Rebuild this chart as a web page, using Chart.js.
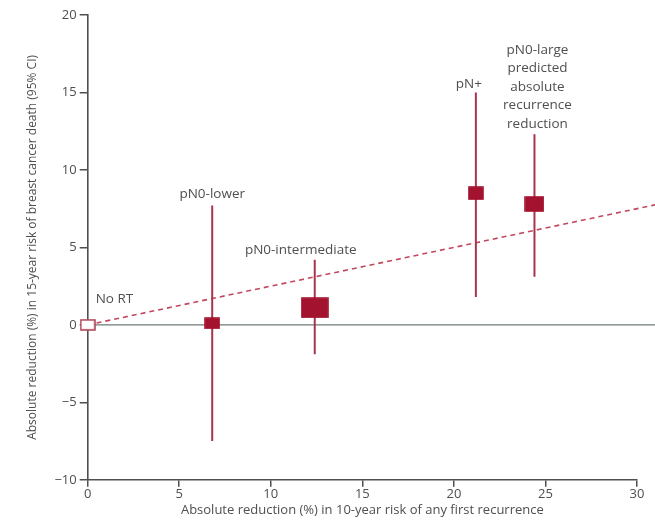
<!DOCTYPE html>
<html><head><meta charset="utf-8">
<script src="https://cdn.jsdelivr.net/npm/chart.js@4"></script>
<style>html,body{margin:0;padding:0;background:#fff}canvas{display:block}</style>
</head><body>
<canvas id="c" width="655" height="522"></canvas>
<script>
const groups = ['No RT','pN0-lower','pN0-intermediate','pN+','pN0-large predicted absolute recurrence reduction'];
const recurrenceReduction = [0, 6.8, 12.4, 21.2, 24.4];
const deathReduction = [0, 0.1, 1.1, 8.5, 7.8];
const ciLow = [null, -7.5, -1.9, 1.8, 3.1];
const ciHigh = [null, 7.7, 4.2, 15.0, 12.3];
const trendX = [0, 31];
const trendY = [0, 7.75];
const xTicks = [0,5,10,15,20,25,30];
const yTicks = [-10,-5,0,5,10,15,20];
const labelLines = [['No RT'],['pN0-lower'],['pN0-intermediate'],['pN+'],['pN0-large','predicted','absolute','recurrence','reduction']];

const RED = '#a3122e';
const GREY = '#4f4f4f';
const boxW = [14,14,26,14,18];
const boxH = [10,10,19,12,14];

function boxCanvas(w,h,filled){
  const c=document.createElement('canvas');c.width=w+2;c.height=h+2;
  const g=c.getContext('2d');
  g.fillStyle=filled?RED:'#fff';g.fillRect(1,1,w,h);
  g.strokeStyle=filled?RED:'#b0485c';g.lineWidth=1.6;g.strokeRect(1,1,w,h);
  return c;
}
const boxes = groups.map((g,i)=>boxCanvas(boxW[i],boxH[i],i>0));

const datasets = [];
datasets.push({type:'line',data:[{x:trendX[0],y:0},{x:trendX[1],y:0}],borderColor:'#6f7a78',borderWidth:1.3,pointRadius:0,clip:false,order:5});
datasets.push({type:'line',data:trendX.map((x,i)=>({x,y:trendY[i]})),borderColor:'#c0485e',borderWidth:1.6,borderDash:[5,4],pointRadius:0,clip:false,order:4});
groups.forEach((g,i)=>{
  if(ciLow[i]===null) return;
  datasets.push({type:'line',data:[{x:recurrenceReduction[i],y:ciLow[i]},{x:recurrenceReduction[i],y:ciHigh[i]}],borderColor:'#a8344c',borderWidth:2,pointRadius:0,order:3});
});
datasets.push({type:'scatter',data:recurrenceReduction.map((x,i)=>({x,y:deathReduction[i]})),pointStyle:boxes,pointRadius:8,clip:false,order:1});

const labelPlugin = {
  id:'labels',
  afterDatasetsDraw(chart){
    const {ctx,scales:{x,y}} = chart;
    const offs = [ [8,-26,'left'], [0,-129,'center'], [-14,-58,'center'], [-7,-109,'center'], [3,-154,'center'] ];
    ctx.save();
    ctx.font = '13.5px "Open Sans", sans-serif';
    ctx.fillStyle = GREY;
    ctx.textBaseline='middle';
    labelLines.forEach((lines,i)=>{
      const px = x.getPixelForValue(recurrenceReduction[i]);
      const py = y.getPixelForValue(deathReduction[i]);
      const [dx,dy,al]=offs[i];
      ctx.textAlign=al;
      lines.forEach((t,k)=>{
        ctx.fillText(t, px+dx, py+dy+k*18.5);
      });
    });
    ctx.restore();
  }
};

new Chart(document.getElementById('c'),{
  type:'scatter',
  data:{datasets},
  options:{
    responsive:false,animation:false,
    layout:{padding:{top:15,right:18,left:25,bottom:2}},
    plugins:{legend:{display:false},tooltip:{enabled:false}},
    scales:{
      x:{type:'linear',min:0,max:30,
        afterBuildTicks(s){s.ticks=xTicks.map(v=>({value:v}));},
        grid:{display:true,drawOnChartArea:false,drawTicks:true,tickLength:7,color:GREY,lineWidth:1.5},
        border:{display:true,color:GREY,width:1.6},
        ticks:{color:GREY,font:{family:'"Open Sans", sans-serif',size:13},padding:0,maxRotation:0},
        title:{display:true,text:'Absolute reduction (%) in 10-year risk of any first recurrence',color:GREY,font:{family:'"Open Sans", sans-serif',size:13},padding:{top:0,bottom:2}}
      },
      y:{type:'linear',min:-10,max:20,
        afterBuildTicks(s){s.ticks=yTicks.map(v=>({value:v}));},
        grid:{display:true,drawOnChartArea:false,drawTicks:true,tickLength:8,color:GREY,lineWidth:1.5},
        border:{display:true,color:GREY,width:1.6},
        ticks:{color:GREY,font:{family:'"Open Sans", sans-serif',size:13},padding:3,
          callback:v=>v<0?'\u2212'+Math.abs(v):String(v)},
        title:{display:true,text:'Absolute reduction (%) in 15-year risk of breast cancer death (95% CI)',color:GREY,font:{family:'"Open Sans", sans-serif',size:12},padding:{top:0,bottom:12}}
      }
    }
  },
  plugins:[labelPlugin]
});
</script>
</body></html>
